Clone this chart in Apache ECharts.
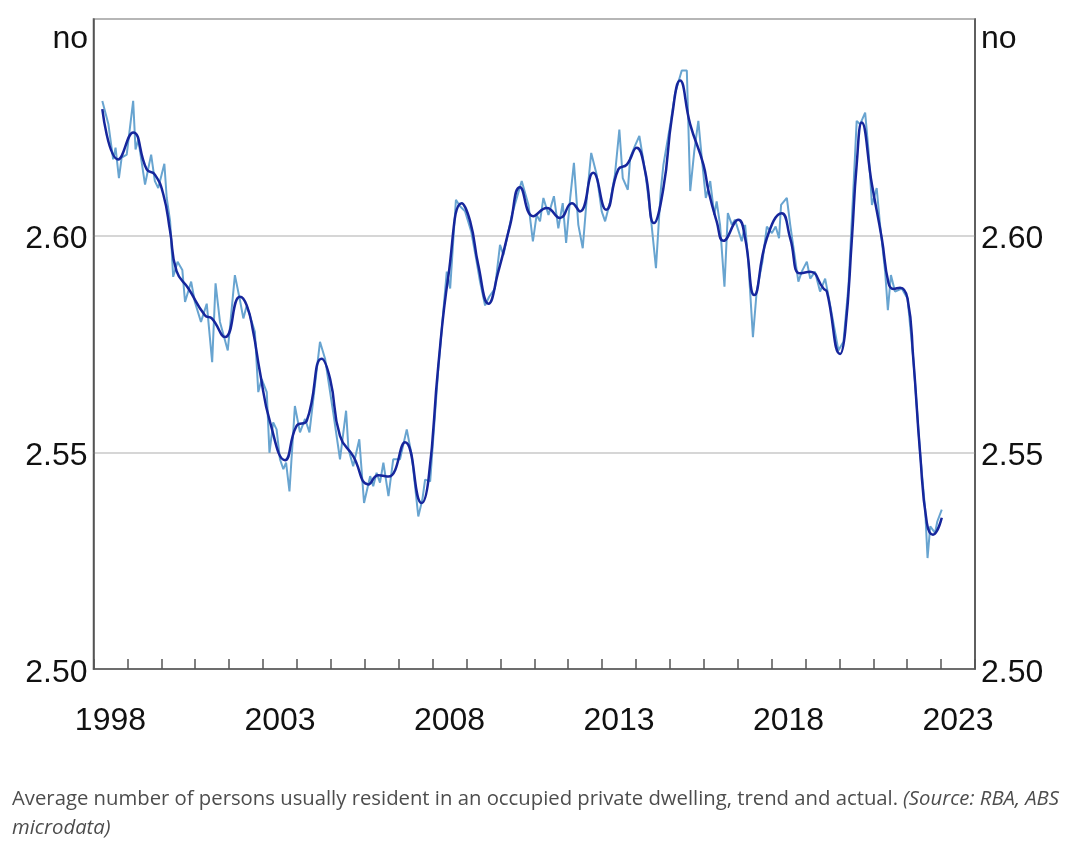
<!DOCTYPE html>
<html>
<head>
<meta charset="utf-8">
<script src="https://cdn.jsdelivr.net/npm/echarts@6/dist/echarts.min.js"></script>
<style>
html,body{margin:0;padding:0;background:#fff;}
#chart{width:1079px;height:853px;}
</style>
</head>
<body>
<div id="chart"></div>
<script>
// Trend series (decimal year, persons per dwelling)
const trendYears = [1998.26,1998.73,1999.17,1999.57,1999.81,2000.06,2000.26,2000.45,2000.80,2001.29,2001.49,2001.88,2002.32,2002.52,2002.71,2002.91,2003.21,2003.65,2003.99,2004.29,2004.73,2004.98,2005.27,2005.66,2006.11,2006.40,2006.70,2007.19,2007.68,2007.88,2008.17,2008.47,2008.86,2009.11,2009.35,2009.65,2009.94,2010.29,2010.58,2010.97,2011.37,2011.76,2012.11,2012.35,2012.74,2013.12,2013.48,2013.73,2014.02,2014.27,2014.53,2014.81,2015.06,2015.30,2015.60,2015.99,2016.14,2016.38,2016.58,2017.02,2017.22,2017.49,2017.86,2018.30,2018.55,2018.84,2019.14,2019.53,2019.63,2020.02,2020.17,2020.37,2020.51,2020.66,2020.96,2021.25,2021.45,2021.59,2021.79,2022.01,2022.18,2022.38,2022.58,2022.76,2023.02];
const trendValues = [2.6292,2.6176,2.6238,2.6153,2.6141,2.6095,2.6010,2.5918,2.5878,2.5816,2.5809,2.5766,2.5859,2.5839,2.5778,2.5685,2.5569,2.5482,2.5561,2.5573,2.5716,2.5669,2.5538,2.5491,2.5426,2.5447,2.5444,2.5523,2.5383,2.5437,2.5700,2.5909,2.6075,2.6033,2.5932,2.5843,2.5917,2.6025,2.6112,2.6045,2.6064,2.6041,2.6075,2.6056,2.6145,2.6060,2.6153,2.6164,2.6203,2.6149,2.6029,2.6110,2.6273,2.6358,2.6257,2.6164,2.6103,2.6033,2.5988,2.6037,2.5994,2.5863,2.5994,2.6052,2.5994,2.5913,2.5917,2.5878,2.5871,2.5727,2.5778,2.5994,2.6164,2.6261,2.6118,2.5994,2.5890,2.5877,2.5880,2.5855,2.5716,2.5499,2.5337,2.5310,2.5349];

// Actual series
const actualYears = [1998.26,1998.44,1998.58,1998.65,1998.75,1998.83,1998.98,1999.17,1999.24,1999.32,1999.52,1999.70,1999.81,1999.91,2000.09,2000.16,2000.26,2000.35,2000.48,2000.62,2000.70,2000.88,2000.99,2001.17,2001.34,2001.50,2001.60,2001.73,2001.96,2002.17,2002.32,2002.42,2002.52,2002.76,2002.86,2002.96,2003.11,2003.19,2003.30,2003.40,2003.50,2003.60,2003.68,2003.78,2003.94,2004.09,2004.24,2004.37,2004.53,2004.68,2004.83,2005.07,2005.27,2005.45,2005.52,2005.66,2005.84,2005.98,2006.16,2006.25,2006.35,2006.45,2006.55,2006.70,2006.84,2007.04,2007.24,2007.39,2007.58,2007.70,2007.78,2007.93,2008.17,2008.42,2008.52,2008.61,2008.69,2008.81,2008.96,2009.14,2009.30,2009.40,2009.55,2009.67,2009.84,2009.99,2010.09,2010.34,2010.63,2010.83,2010.96,2011.07,2011.17,2011.27,2011.42,2011.58,2011.71,2011.84,2011.94,2012.06,2012.17,2012.30,2012.43,2012.55,2012.68,2012.84,2012.99,2013.09,2013.24,2013.38,2013.51,2013.61,2013.76,2013.83,2013.97,2014.10,2014.27,2014.44,2014.59,2014.73,2014.81,2015.02,2015.15,2015.35,2015.50,2015.60,2015.72,2015.84,2015.94,2016.06,2016.19,2016.31,2016.38,2016.48,2016.61,2016.71,2016.83,2016.92,2017.12,2017.22,2017.32,2017.45,2017.56,2017.73,2017.86,2018.01,2018.12,2018.22,2018.28,2018.45,2018.55,2018.69,2018.79,2018.89,2019.04,2019.14,2019.28,2019.43,2019.58,2019.73,2019.97,2020.12,2020.27,2020.41,2020.51,2020.61,2020.76,2020.86,2020.96,2021.10,2021.20,2021.35,2021.43,2021.52,2021.64,2021.84,2022.01,2022.18,2022.38,2022.53,2022.60,2022.68,2022.82,2022.89,2023.02];
const actualValues = [2.6311,2.6257,2.6176,2.6203,2.6133,2.6180,2.6187,2.6311,2.6199,2.6222,2.6118,2.6187,2.6126,2.6110,2.6166,2.6087,2.6033,2.5905,2.5940,2.5921,2.5847,2.5894,2.5847,2.5801,2.5843,2.5708,2.5890,2.5801,2.5735,2.5909,2.5851,2.5809,2.5839,2.5778,2.5639,2.5669,2.5639,2.5499,2.5569,2.5553,2.5484,2.5461,2.5476,2.5410,2.5607,2.5546,2.5577,2.5546,2.5654,2.5755,2.5716,2.5592,2.5484,2.5596,2.5507,2.5468,2.5530,2.5383,2.5445,2.5422,2.5453,2.5430,2.5476,2.5399,2.5484,2.5484,2.5553,2.5491,2.5352,2.5391,2.5437,2.5433,2.5693,2.5917,2.5878,2.5987,2.6083,2.6068,2.6056,2.6010,2.5940,2.5894,2.5839,2.5859,2.5878,2.5979,2.5955,2.6048,2.6126,2.6071,2.5987,2.6048,2.6033,2.6087,2.6048,2.6091,2.6017,2.6075,2.5983,2.6087,2.6168,2.6025,2.5971,2.6087,2.6191,2.6141,2.6056,2.6033,2.6079,2.6141,2.6245,2.6133,2.6106,2.6180,2.6207,2.6230,2.6149,2.6041,2.5925,2.6103,2.6164,2.6260,2.6327,2.6381,2.6381,2.6103,2.6195,2.6265,2.6180,2.6087,2.6126,2.6048,2.6079,2.6025,2.5882,2.6052,2.6025,2.6037,2.5987,2.6025,2.5932,2.5766,2.5871,2.5940,2.6021,2.6006,2.6021,2.5994,2.6071,2.6087,2.6025,2.5948,2.5894,2.5917,2.5940,2.5901,2.5917,2.5871,2.5901,2.5839,2.5735,2.5755,2.5886,2.6103,2.6265,2.6257,2.6284,2.6195,2.6071,2.6110,2.6025,2.5917,2.5828,2.5909,2.5871,2.5878,2.5855,2.5716,2.5499,2.5368,2.5256,2.5329,2.5314,2.5341,2.5368];

// Axis labels
const yearLabels = ['1998','2003','2008','2013','2018','2023'];
const yTickLabels = ['2.50','2.55','2.60'];
const unitLabel = 'no';
const captionMain = 'Average number of persons usually resident in an occupied private dwelling, trend and actual.';
const captionSource1 = '(Source: RBA, ABS';
const captionSource2 = 'microdata)';

const chart = echarts.init(document.getElementById('chart'), null, {renderer: 'canvas'});
const axisFont = '"Liberation Sans", Arial, sans-serif';
const yLabelFmt = v => { const s = v.toFixed(2); return yTickLabels.indexOf(s) >= 0 ? '{t|' + s + '}' : ''; };
const yRich = {t: {fontSize: 32, fontFamily: axisFont, color: '#111', padding: [8, 0, 0, 0]}};
const capStyle = {fontFamily: '"Open Sans", sans-serif', fontSize: 20.3, fontWeight: 'normal', color: '#4d4d4d', lineHeight: 29};

const option = {
  animation: false,
  backgroundColor: '#fff',
  title: {
    left: 12, top: 785, padding: 0,
    text: '{n|' + captionMain + '} {i|' + captionSource1 + '}\n{i|' + captionSource2 + '}',
    textStyle: {
      fontWeight: 'normal',
      rich: {
        n: capStyle,
        i: Object.assign({}, capStyle, {fontStyle: 'italic'})
      }
    }
  },
  graphic: [
    {type: 'text', x: 88, y: 39, style: {text: unitLabel, align: 'right', verticalAlign: 'middle', font: '32px "Liberation Sans", Arial', fill: '#111'}},
    {type: 'text', x: 981, y: 39, style: {text: unitLabel, align: 'left', verticalAlign: 'middle', font: '32px "Liberation Sans", Arial', fill: '#111'}}
  ],
  grid: {left: 93.5, right: 104, top: 19, bottom: 184, show: true, borderColor: '#555', borderWidth: 1.5, backgroundColor: 'transparent'},
  xAxis: [
    {
      type: 'value', min: 1998, max: 2024, interval: 1, position: 'bottom',
      axisLine: {show: true, lineStyle: {color: '#555', width: 1.5}},
      axisTick: {show: true, inside: true, length: 10, lineStyle: {color: '#555', width: 1.5}},
      axisLabel: {show: false},
      splitLine: {show: false},
      z: 5
    },
    {
      type: 'value', min: 1998, max: 2024, interval: 0.5, position: 'bottom',
      axisLine: {show: false}, axisTick: {show: false}, splitLine: {show: false},
      axisLabel: {
        show: true, margin: 36, fontSize: 32, fontFamily: axisFont, color: '#111',
        showMinLabel: false, showMaxLabel: false,
        formatter: v => { const y = String(Math.round(v - 0.5)); return (Math.abs(v - 0.5 - Math.round(v - 0.5)) < 1e-6 && yearLabels.indexOf(y) >= 0) ? y : ''; }
      }
    }
  ],
  yAxis: [
    {
      type: 'value', min: 2.5, max: 2.65, interval: 0.05, position: 'left',
      axisLine: {show: true, lineStyle: {color: '#555', width: 1.5}},
      axisTick: {show: false},
      axisLabel: {margin: 6, fontSize: 32, fontFamily: axisFont, color: '#111', formatter: yLabelFmt, rich: yRich},
      splitLine: {show: true, lineStyle: {color: '#c8c8c8', width: 1.5}}
    },
    {
      type: 'value', min: 2.5, max: 2.65, interval: 0.05, position: 'right',
      axisLine: {show: true, lineStyle: {color: '#555', width: 1.5}},
      axisTick: {show: false},
      axisLabel: {margin: 6, fontSize: 32, fontFamily: axisFont, color: '#111', formatter: yLabelFmt, rich: yRich},
      splitLine: {show: false}
    }
  ],
  series: [
    {
      name: 'Actual', type: 'line', xAxisIndex: 0, yAxisIndex: 0,
      data: actualYears.map((y, i) => [y, actualValues[i]]),
      showSymbol: false, smooth: false,
      lineStyle: {color: '#68a4d0', width: 2}, z: 2
    },
    {
      name: 'Trend', type: 'line', xAxisIndex: 0, yAxisIndex: 0,
      data: trendYears.map((y, i) => [y, trendValues[i]]),
      showSymbol: false, smooth: 0.5,
      lineStyle: {color: '#16269c', width: 2.5}, z: 3
    }
  ]
};
chart.setOption(option);
</script>
</body>
</html>
